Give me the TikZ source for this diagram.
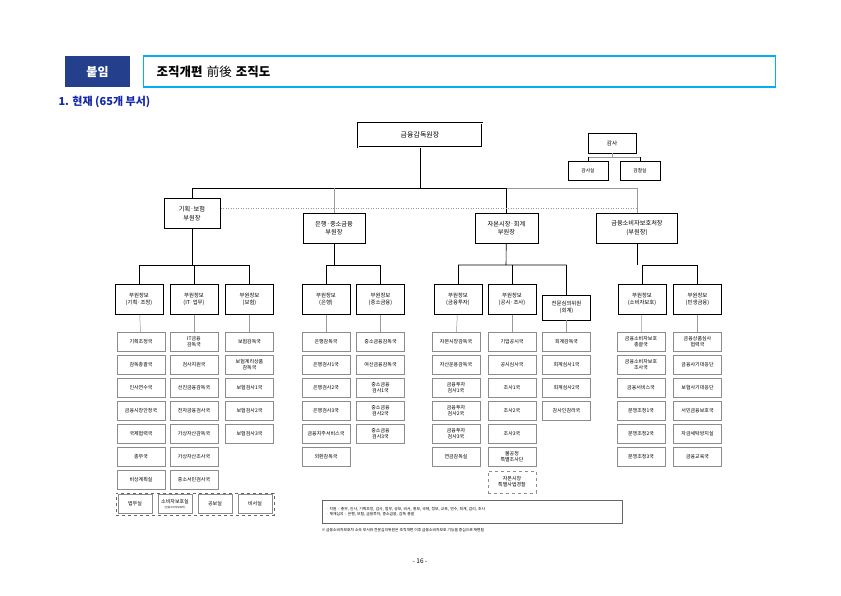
\documentclass[tikz,border=0pt]{standalone}
\usepackage{fontspec}
\setmainfont{Noto Sans CJK KR}
\usetikzlibrary{positioning}
\definecolor{hdblue}{RGB}{36,64,140}
\definecolor{hdcyan}{RGB}{0,176,240}
\definecolor{secblue}{RGB}{20,40,170}
\tikzset{
  dept/.style={draw=black!45,fill=white,minimum width=48pt,minimum height=19pt,
               inner sep=0.5pt,align=center,text width=47pt,font=\fontsize{5}{5.8}\selectfont},
  dep/.style={draw=black,line width=0.9pt,minimum width=48pt,minimum height=30pt,
              inner sep=0.5pt,align=center,font=\fontsize{5.4}{6.8}\selectfont},
  vp/.style={draw=black,line width=1pt,minimum height=30pt,inner sep=1pt,
             align=center,font=\fontsize{6.2}{8.5}\selectfont},
  tline/.style={draw=black,line width=0.6pt},
  gline/.style={draw=black!40,line width=0.5pt}
}
\newcommand\deptcol[3]{%
  \foreach \t [count=\i] in {#3}
    \node[dept] (#1-\i) at ({#2},{342+23*(\i-1)}) {\t};}
\begin{document}
\begin{tikzpicture}[x=1pt,y=-1pt]
  \useasboundingbox (0,0) rectangle (841,595);
  % header
  \node[fill=hdblue,text=white,minimum width=65pt,minimum height=31pt,
        font=\bfseries\fontsize{12}{13}\selectfont] (tag) at (97.5,71.5) {붙임};
  \node[draw=hdcyan,line width=1.2pt,minimum width=632pt,minimum height=31pt,
        anchor=west,inner xsep=12pt,text width=606pt,
        font=\fontsize{12.5}{13}\selectfont] (title) at (143,71.5)
        {\textbf{조직개편} 前後 \textbf{조직도}};
  \node[anchor=west,text=secblue,font=\bfseries\fontsize{11}{12}\selectfont]
        (sec) at (55,102) {1. 현재 (65개 부서)};
  % top
  \node[draw=black,line width=1pt,double,double distance=0.8pt,minimum width=124pt,
        minimum height=24pt,font=\fontsize{7}{8}\selectfont] (gov) at (420,135) {금융감독원장};
  \node[draw=black,minimum width=48pt,minimum height=20pt,font=\fontsize{5.6}{6}\selectfont]
        (aud) at (612,143) {감사};
  \node[draw=black,minimum width=40pt,minimum height=19pt,font=\fontsize{4.8}{5}\selectfont]
        (aud1) at (588,170.5) {감사실};
  \node[draw=black,minimum width=40pt,minimum height=19pt,font=\fontsize{4.8}{5}\selectfont]
        (aud2) at (640,170.5) {감찰실};
  \coordinate (abar) at (612,157);
  \draw[gline] (aud) -- (abar) (aud1.north|-abar) -- (aud2.north|-abar);
  \draw[tline] (aud1.north) -- (aud1.north|-abar) (aud2.north) -- (aud2.north|-abar);
  % vice governors
  \node[vp,minimum width=56pt] (vp1) at (192,213.5) {기획·보험\\부원장};
  \node[vp,minimum width=62pt] (vp2) at (334,228) {은행·중소금융\\부원장};
  \node[vp,minimum width=63pt] (vp3) at (506.5,228) {자본시장·회계\\부원장};
  \node[vp,minimum width=81pt,inner xsep=0pt] (vp4) at (637,228) {금융소비자보호처장\\(부원장)};
  \coordinate (hbar) at (420,188);
  \draw[tline] (gov) -- (hbar) (vp1.north|-hbar) -- (vp3.north|-hbar);
  \draw[gline] (vp3.north|-hbar) -- (vp4.north|-hbar);
  \draw[tline] (vp1.north) -- (vp1.north|-hbar) (vp3.north) -- (vp3.north|-hbar);
  \draw[gline] (vp2.north) -- (vp2.north|-hbar) (vp4.north) -- (vp4.north|-hbar);
  \draw[gline,dotted] (vp1.east|-0,208) -- (vp4.north|-0,208);
  % deputy governors
  \node[dep] (d1) at (139,299.5) {부원장보\\(기획·조정)};
  \node[dep] (d2) at (194,299.5) {부원장보\\(IT·업무)};
  \node[dep] (d3) at (249.5,299.5) {부원장보\\(보험)};
  \node[dep] (d4) at (326,299.5) {부원장보\\(은행)};
  \node[dep] (d5) at (380.5,299.5) {부원장보\\(중소금융)};
  \node[dep] (d6) at (458,299.5) {부원장보\\(금융투자)};
  \node[dep] (d7) at (512,299.5) {부원장보\\(공시·조사)};
  \node[dep,minimum height=25pt] (d8) at (566.5,307.5) {전문심의위원\\(회계)};
  \node[dep] (d9) at (642,299.5) {부원장보\\(소비자보호)};
  \node[dep] (d10) at (697.5,299.5) {부원장보\\(민생금융)};
  \coordinate (b1) at (192,265);
  \coordinate (b2) at (334,265);
  \coordinate (b3) at (506,265);
  \coordinate (b4) at (637,265);
  \draw[tline] (vp1) -- (b1) (d1.north|-b1) -- (d3.north|-b1);
  \draw[tline] (d1.north|-b1) -- (d1.north) (d2.north|-b1) -- (d2.north) (d3.north|-b1) -- (d3.north);
  \draw[tline] (vp2) -- (b2) (d4.north|-b2) -- (d5.north|-b2);
  \draw[tline] (d4.north|-b2) -- (d4.north) (d5.north|-b2) -- (d5.north);
  \draw[tline] (vp3) -- (b3) (d6.north|-b3) -- (d8.north|-b3);
  \draw[tline] (d6.north|-b3) -- (d6.north) (d7.north|-b3) -- (d7.north) (d8.north|-b3) -- (d8.north);
  \draw[tline] (vp4) -- (b4) (d9.north|-b4) -- (d10.north|-b4);
  \draw[tline] (d9.north|-b4) -- (d9.north) (d10.north|-b4) -- (d10.north);
  % departments
  \deptcol{c1}{141}{기획조정국,감독총괄국,인사연수국,금융시장안정국,국제협력국,총무국,비상계획실}
  \deptcol{c2}{194}{{IT금융\\감독국},검사지원국,선진금융감독국,전자금융검사국,가상자산감독국,가상자산조사국,중소서민검사국}
  \deptcol{c3}{249.5}{보험감독국,{보험계리상품\\감독국},보험검사1국,보험검사2국,보험검사3국}
  \deptcol{c4}{326}{은행감독국,은행검사1국,은행검사2국,은행검사3국,금융지주서비스국,외환감독국}
  \deptcol{c5}{380.5}{중소금융감독국,여신금융감독국,{중소금융\\검사1국},{중소금융\\검사2국},{중소금융\\검사3국}}
  \deptcol{c6}{456}{자본시장감독국,자산운용감독국,{금융투자\\검사1국},{금융투자\\검사2국},{금융투자\\검사3국},연금감독실}
  \deptcol{c7}{512}{기업공시국,공시심사국,조사1국,조사2국,조사3국,{불공정\\특별조사단}}
  \deptcol{c8}{566.5}{회계감독국,회계심사1국,회계심사2국,감사인감리국}
  \deptcol{c9}{641}{{금융소비자보호\\총괄국},{금융소비자보호\\조사국},금융서비스국,분쟁조정1국,분쟁조정2국,분쟁조정3국}
  \deptcol{c10}{697.5}{{금융상품심사\\협력국},금융사기대응단,보험사기대응단,서민금융보호국,자금세탁방지실,금융교육국}
  \node[dept,dashed,minimum height=22pt] (spj) at (512,482) {자본시장\\특별사법경찰};
  \foreach \k in {1,...,10} \draw[gline] (d\k) -- (c\k-1);
  % staff offices
  \node[draw=black!60,dashed,minimum width=158pt,minimum height=22pt] (staff) at (195,504) {};
  \node[dept,minimum width=34pt,text width=33pt] (s1) at (135,504) {법무실};
  \node[dept,minimum width=34pt,text width=33pt] (s2) at (175,504) {소비자보호실\\[-1pt]{\fontsize{2.6}{3}\selectfont (금융소비자보호처)}};
  \node[dept,minimum width=34pt,text width=33pt] (s3) at (215,504) {공보실};
  \node[dept,minimum width=34pt,text width=33pt] (s4) at (255,504) {비서실};
  % notes
  \node[draw=black!60,minimum width=300pt,minimum height=23pt,anchor=north west,
        align=left,text width=292pt,font=\fontsize{3.8}{5.2}\selectfont] (note) at (322,500)
        {· 지원 : 총무, 인사, 기획조정, 감사, 법무, 공보, 비서, 홍보, 국제, 정보, 교육, 연수, 회계, 감리, 조사\\
         · 제재심의 : 은행, 보험, 금융투자, 중소금융, 감독 총괄};
  \node[anchor=west,font=\fontsize{3.8}{5}\selectfont] (foot) at (318,530)
        {※ 금융소비자보호처 소속 부서와 전문심의위원은 조직개편 이후 금융소비자보호 기능을 중심으로 재편됨};
  \node[font=\fontsize{6.5}{7}\selectfont] (page) at (420,561) {- 16 -};
\end{tikzpicture}
\end{document}
